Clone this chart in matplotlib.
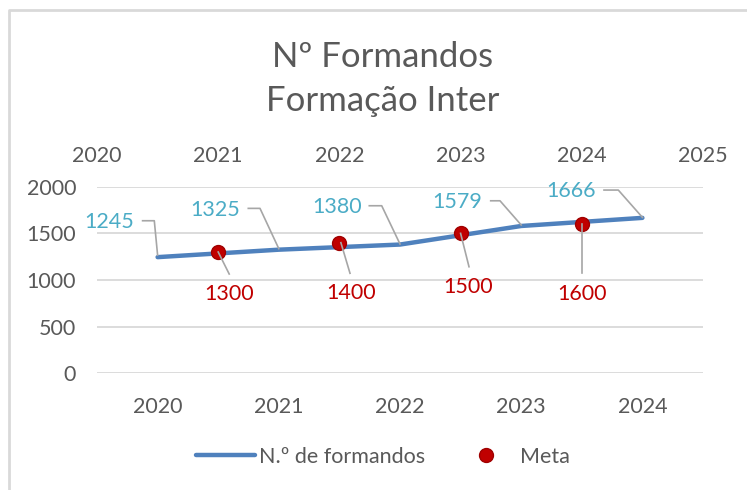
import matplotlib
matplotlib.use("Agg")
import matplotlib.pyplot as plt
from matplotlib.lines import Line2D
from matplotlib.transforms import ScaledTranslation

plt.rcParams['font.family'] = ['Lato', 'DejaVu Sans']

# data
categories = ['2020', '2021', '2022', '2023', '2024']
formandos = [1245, 1325, 1380, 1579, 1666]
meta_years = [2021, 2022, 2023, 2024]
meta = [1300, 1400, 1500, 1600]
top_years = [2020, 2021, 2022, 2023, 2024, 2025]

# label placement (pixel offsets from the point, y up)
form_text_off = [(-48.6, 35), (-63.8, 39.6), (-63.3, 37.8), (-63.9, 23.6), (-71.7, 27.1)]
form_leader = [
    [(-15, 36.4), (-3.3, 36.4), (0, 2)],
    [(-30.5, 41.3), (-18.8, 41.3), (0, 1)],
    [(-30.7, 38.8), (-18.3, 38.8), (0, 0.5)],
    [(-30.5, 25.2), (-21.2, 25.2), (0, 1)],
    [(-38.4, 27.8), (-24.1, 27.8), (0, 0.5)],
]
meta_text_off = [(11, -42), (11.3, -50.6), (7.7, -53.4), (0, -70)]
meta_leader = [
    [(0, 0), (11, -22)],
    [(1.5, 0), (10.6, -30.6)],
    [(0, 0), (8.4, -33.4)],
    [(0, 0), (0, -49.3)],
]

blue = '#4f81bd'
teal = '#4bacc6'
red = '#c00000'
gray_text = '#595959'
grid = '#d9d9d9'
leader_col = '#a6a6a6'
fs = 15.5

fig = plt.figure(figsize=(7.47, 4.90), dpi=100)
ax = fig.add_axes([97 / 747, 1 - 373.3 / 490, 606 / 747, 186.6 / 490])
xs = list(range(len(categories)))
ax.plot(xs, formandos, color=blue, lw=3.2, solid_capstyle='round', zorder=3)
ax.set_xlim(-0.5, len(categories) - 0.5)
ax.set_ylim(0, 2000)
ax.set_yticks([0, 500, 1000, 1500, 2000])
ax.set_xticks(xs)
ax.set_xticklabels(categories)
ax.grid(axis='y', color=grid, lw=1.3)
ax.set_axisbelow(True)
for s in ax.spines.values():
    s.set_visible(False)
ax.tick_params(axis='y', length=0, pad=15, labelsize=fs, labelcolor=gray_text)
ax.tick_params(axis='x', length=0, pad=17, labelsize=fs, labelcolor=gray_text)

ax2 = ax.twiny()
ax2.set_xlim(top_years[0], top_years[-1])
ax2.set_xticks(top_years)
ax2.set_xticklabels([str(y) for y in top_years])
ax2.tick_params(axis='x', length=0, pad=15, labelsize=fs, labelcolor=gray_text)
for s in ax2.spines.values():
    s.set_visible(False)
ax2.plot(meta_years, meta, 'o', ms=10, color=red, mec='#a00000', mew=1, zorder=4)

for i, v in enumerate(formandos):
    ax.annotate(str(v), (xs[i], v), xytext=form_text_off[i], textcoords='offset pixels',
                ha='center', va='center', color=teal, fontsize=fs)
    px, py = zip(*form_leader[i])
    ax.add_line(Line2D(px, py, color=leader_col, lw=1.2, zorder=5,
                       transform=ScaledTranslation(xs[i], v, ax.transData)))

for i, v in enumerate(meta):
    ax2.annotate(str(v), (meta_years[i], v), xytext=meta_text_off[i], textcoords='offset pixels',
                 ha='center', va='center', color=red, fontsize=fs)
    px, py = zip(*meta_leader[i])
    ax2.add_line(Line2D(px, py, color=leader_col, lw=1.2, zorder=5,
                        transform=ScaledTranslation(meta_years[i], v, ax2.transData)))

fig.text(383 / 747, 1 - 57 / 490, 'Nº Formandos', ha='center', va='center',
         fontsize=25, color=gray_text)
fig.text(383 / 747, 1 - 101 / 490, 'Formação Inter', ha='center', va='center',
         fontsize=25, color=gray_text)

handles = [Line2D([], [], color=blue, lw=3.2, solid_capstyle='round'),
           Line2D([], [], marker='o', ls='', ms=10, color=red, mec='#a00000')]
fig.legend(handles, ['N.º de formandos', 'Meta'], loc='center',
           bbox_to_anchor=(383 / 747, 1 - 457 / 490), ncol=2, frameon=False,
           fontsize=fs, labelcolor=gray_text, handlelength=2.7, handletextpad=0.2,
           columnspacing=1.5)

# chart border (partly cut off in the original)
fig.add_artist(Line2D([9 / 747, 9 / 747, 1], [0, 1 - 10 / 490, 1 - 10 / 490],
                      color=grid, lw=2, transform=fig.transFigure))

fig.savefig('out.png', dpi=100)
